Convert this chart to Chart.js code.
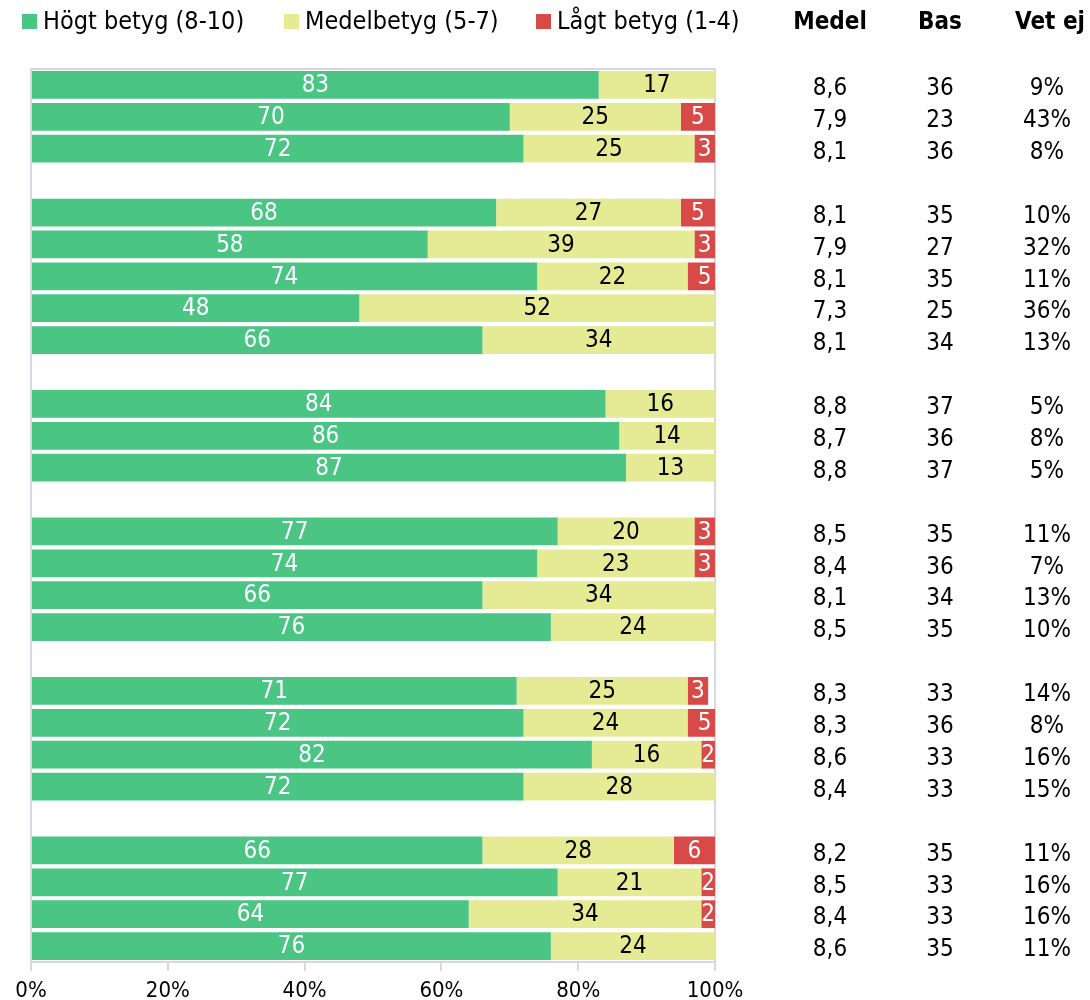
<!DOCTYPE html>
<html>
<head>
<meta charset="utf-8">
<script src="https://cdn.jsdelivr.net/npm/chart.js@4.4.0/dist/chart.umd.min.js"></script>
<style>
  body { margin: 0; background: #fff; }
  #wrap { width: 1090px; height: 1000px; }
</style>
</head>
<body>
<div id="wrap"><canvas id="chart-betyg"></canvas></div>
<script>
// rader (null = tom rad mellan grupperna)
var categories = ["1", "2", "3", "", "4", "5", "6", "7", "8", "", "9", "10", "11", "", "12", "13", "14", "15", "", "16", "17", "18", "19", "", "20", "21", "22", "23"];
var hogt  = [83, 70, 72, null, 68, 58, 74, 48, 66, null, 84, 86, 87, null, 77, 74, 66, 76, null, 71, 72, 82, 72, null, 66, 77, 64, 76];
var medel = [17, 25, 25, null, 27, 39, 22, 52, 34, null, 16, 14, 13, null, 20, 23, 34, 24, null, 25, 24, 16, 28, null, 28, 21, 34, 24];
var lagt  = [0, 5, 3, null, 5, 3, 5, 0, 0, null, 0, 0, 0, null, 3, 3, 0, 0, null, 3, 5, 2, 0, null, 6, 2, 2, 0];

var medelvarde = ["8,6", "7,9", "8,1", null, "8,1", "7,9", "8,1", "7,3", "8,1", null, "8,8", "8,7", "8,8", null, "8,5", "8,4", "8,1", "8,5", null, "8,3", "8,3", "8,6", "8,4", null, "8,2", "8,5", "8,4", "8,6"];
var bas   = [36, 23, 36, null, 35, 27, 35, 25, 34, null, 37, 36, 37, null, 35, 36, 34, 35, null, 33, 36, 33, 33, null, 35, 33, 33, 35];
var vetEj = ["9%", "43%", "8%", null, "10%", "32%", "11%", "36%", "13%", null, "5%", "8%", "5%", null, "11%", "7%", "13%", "10%", null, "14%", "8%", "16%", "15%", null, "11%", "16%", "16%", "11%"];

var xTicks = [0, 20, 40, 60, 80, 100];
var tableHeaders = ["Medel", "Bas", "Vet ej"];

var FONT = "'DejaVu Sans Condensed', 'DejaVu Sans', sans-serif";
var gridColor = "#d5d8de";

// siffror i staplarna
var barLabels = {
    id: 'barLabels',
    afterDatasetsDraw: function(chart) {
        var ctx = chart.ctx;
        ctx.save();
        ctx.font = "24px " + FONT;
        ctx.textAlign = 'center';
        ctx.textBaseline = 'middle';
        chart.data.datasets.forEach(function(ds, di) {
            var meta = chart.getDatasetMeta(di);
            meta.data.forEach(function(el, i) {
                var v = ds.data[i];
                if (!v) return;
                ctx.fillStyle = ds.labelColor;
                ctx.fillText(v, (el.x + el.base) / 2, el.y + 1);
            });
        });
        ctx.restore();
    }
};

// egen förklaring överst
var topLegend = {
    id: 'topLegend',
    afterDraw: function(chart) {
        var ctx = chart.ctx;
        var boxX = [22, 284, 536];
        ctx.save();
        ctx.font = "25px " + FONT;
        ctx.textBaseline = 'middle';
        ctx.textAlign = 'left';
        chart.data.datasets.forEach(function(ds, i) {
            ctx.fillStyle = ds.backgroundColor;
            ctx.fillRect(boxX[i], 14, 15, 15);
            ctx.fillStyle = '#000';
            ctx.fillText(ds.label, boxX[i] + 21, 22);
        });
        ctx.restore();
    }
};

// tabellen till höger + ram runt diagrammet
var sideTable = {
    id: 'sideTable',
    beforeDatasetsDraw: function(chart) {
        var a = chart.chartArea;
        var ctx = chart.ctx;
        ctx.save();
        ctx.strokeStyle = gridColor;
        ctx.lineWidth = 2;
        ctx.strokeRect(a.left, a.top, a.right - a.left, a.bottom - a.top);
        ctx.restore();
    },
    afterDraw: function(chart) {
        var ctx = chart.ctx;
        var y = chart.scales.y;
        var right = chart.chartArea.right;
        var cols = [right + 115, right + 225, right + 332];
        var colData = [medelvarde, bas, vetEj];
        ctx.save();
        ctx.fillStyle = '#000';
        ctx.textAlign = 'center';
        ctx.textBaseline = 'middle';
        ctx.font = "bold 24px " + FONT;
        tableHeaders.forEach(function(h, c) {
            ctx.fillText(h, cols[c] + (c === 2 ? 3 : 0), 23);
        });
        ctx.font = "24px " + FONT;
        colData.forEach(function(arr, c) {
            arr.forEach(function(v, i) {
                if (v === null) return;
                ctx.fillText(v, cols[c], y.getPixelForValue(i) + 4);
            });
        });
        ctx.restore();
    }
};

var ctx = document.getElementById('chart-betyg');
var myChart = new Chart(ctx, {
    type: 'bar',
    data: {
        labels: categories,
        datasets: [{
            label: 'Högt betyg (8-10)',
            data: hogt,
            backgroundColor: 'rgb(74, 197, 132)',
            labelColor: '#fff'
        }, {
            label: 'Medelbetyg (5-7)',
            data: medel,
            backgroundColor: 'rgb(229, 234, 148)',
            labelColor: '#000'
        }, {
            label: 'Lågt betyg (1-4)',
            data: lagt,
            backgroundColor: 'rgb(216, 74, 72)',
            labelColor: '#fff'
        }]
    },
    options: {
        indexAxis: 'y',
        responsive: true,
        maintainAspectRatio: false,
        animation: false,
        layout: { padding: { top: 69, left: 0, right: 0, bottom: 0 } },
        datasets: {
            bar: { barPercentage: 0.87, categoryPercentage: 1.0, borderWidth: 0 }
        },
        plugins: {
            legend: { display: false },
            tooltip: { enabled: false }
        },
        scales: {
            x: {
                stacked: true,
                min: 0,
                max: 100,
                afterBuildTicks: function(s) {
                    s.ticks = xTicks.map(function(v) { return { value: v }; });
                },
                ticks: {
                    color: '#000',
                    padding: 7,
                    font: { family: FONT, size: 22 },
                    callback: function(v) { return v + '%'; }
                },
                grid: { drawOnChartArea: false, drawTicks: true, tickLength: 9, color: gridColor, lineWidth: 2 },
                border: { color: gridColor, width: 2 },
                afterFit: function(s) { s.height = 38; }
            },
            y: {
                stacked: true,
                ticks: { display: false },
                grid: { display: false },
                border: { color: gridColor, width: 2 },
                afterFit: function(s) { s.width = 31; }
            },
            y2: {
                position: 'right',
                ticks: { display: false },
                grid: { display: false },
                border: { display: false },
                afterFit: function(s) { s.width = 375; }
            }
        }
    },
    plugins: [barLabels, sideTable, topLegend]
});
</script>
</body>
</html>
